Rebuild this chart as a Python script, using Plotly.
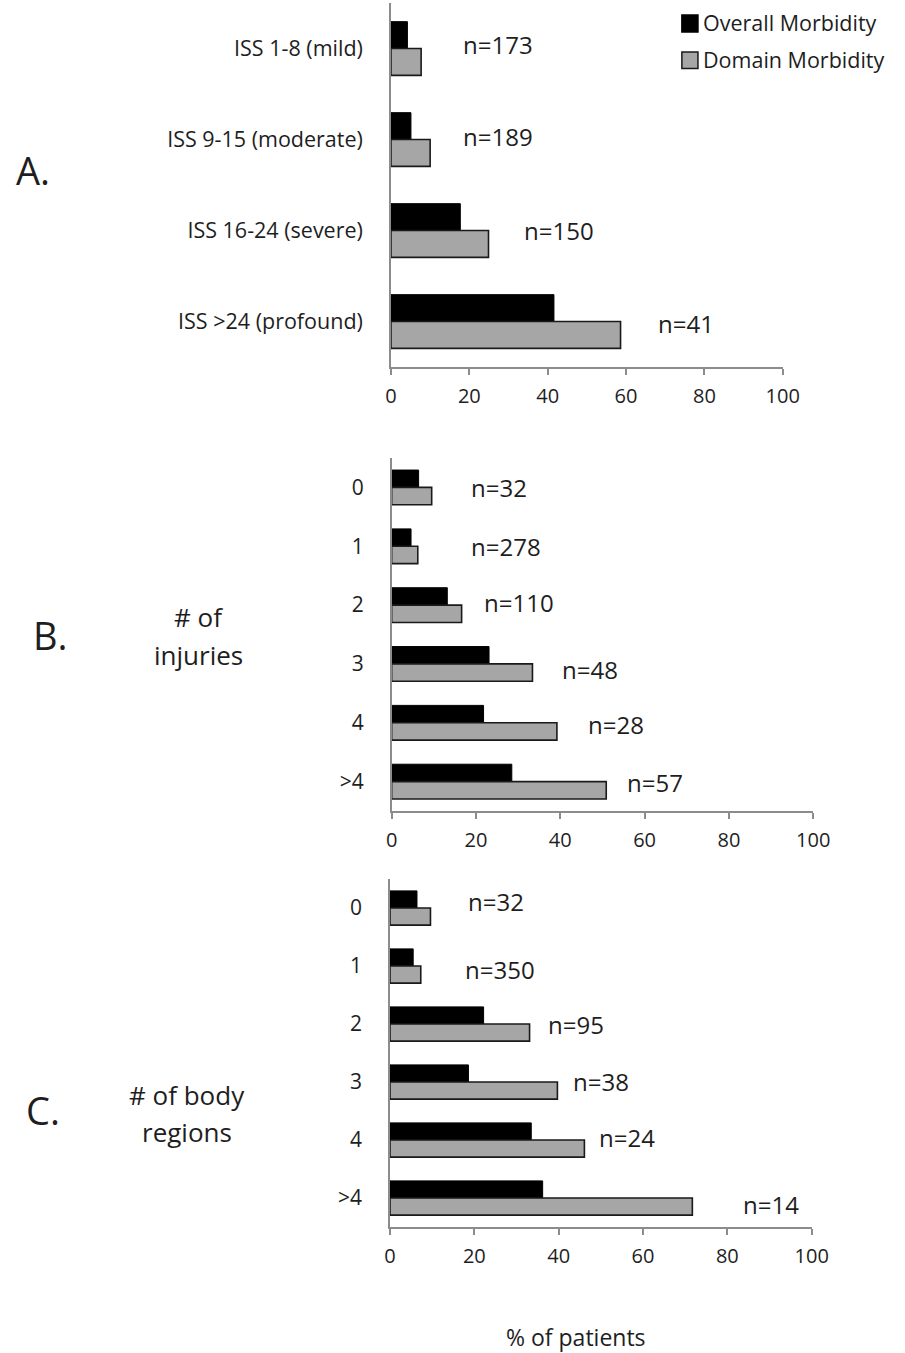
import plotly.graph_objects as go

# ---------------- data ----------------
series_names = ["Overall Morbidity", "Domain Morbidity"]

cats_a = ["ISS 1-8 (mild)", "ISS 9-15 (moderate)", "ISS 16-24 (severe)", "ISS >24 (profound)"]
overall_a = [4.2, 5.1, 17.7, 41.6]
domain_a = [7.7, 10.0, 24.9, 58.6]
n_a = [173, 189, 150, 41]

cats_b = ["0", "1", "2", "3", "4", ">4"]
overall_b = [6.4, 4.6, 13.2, 23.1, 21.8, 28.5]
domain_b = [9.5, 6.2, 16.6, 33.4, 39.2, 50.9]
n_b = [32, 278, 110, 48, 28, 57]

cats_c = ["0", "1", "2", "3", "4", ">4"]
overall_c = [6.4, 5.5, 22.2, 18.6, 33.5, 36.2]
domain_c = [9.6, 7.3, 33.1, 39.7, 46.1, 71.7]
n_c = [32, 350, 95, 38, 24, 14]

x_ticks = [0, 20, 40, 60, 80, 100]

# ---------------- layout helpers (positions / styles) ----------------
W, H = 905, 1353
FONT = "Open Sans"
TXT = "#1e1e1e"
AXIS = "#8c8c8c"
BLACK = "#000000"
GREY = "#a6a6a6"
GREY_EDGE = "#1a1a1a"

# n-label x positions (in data units) and vertical nudges (px)
nlab_x_a = [18.7, 18.7, 34.1, 68.4]
nlab_dy_a = [-4, -3, 0, 2]
nlab_x_b = [19.0, 19.0, 22.2, 40.7, 46.7, 56.0]
nlab_dy_b = [0, 0, -3, 6, 2, 1]
nlab_x_c = [18.7, 18.0, 37.7, 43.7, 49.9, 83.9]
nlab_dy_c = [-7, 3, 0, -1, -3, 6]


def px_x(p):
    return p / W


def px_y(p):
    return 1 - p / H


panels = [
    dict(cats=cats_a, ov=overall_a, dm=domain_a, n=n_a, nx=nlab_x_a, ndy=nlab_dy_a,
         xd=[px_x(395), px_x(797)], yd=[px_y(367), px_y(3)], cat_font=21.5),
    dict(cats=cats_b, ov=overall_b, dm=domain_b, n=n_b, nx=nlab_x_b, ndy=nlab_dy_b,
         xd=[px_x(395.7), px_x(828.3)], yd=[px_y(811), px_y(458)], cat_font=21),
    dict(cats=cats_c, ov=overall_c, dm=domain_c, n=n_c, nx=nlab_x_c, ndy=nlab_dy_c,
         xd=[px_x(394), px_x(826.7)], yd=[px_y(1227), px_y(879)], cat_font=21),
]

fig = go.Figure()
annotations = []
shapes = []
layout_axes = {}

for i, p in enumerate(panels):
    sfx = "" if i == 0 else str(i + 1)
    xa, ya = "x" + sfx, "y" + sfx
    fig.add_trace(go.Bar(
        orientation="h", y=p["cats"], x=p["ov"], name=series_names[0],
        marker=dict(color=BLACK, line=dict(color=BLACK, width=1)),
        xaxis=xa, yaxis=ya, showlegend=False))
    fig.add_trace(go.Bar(
        orientation="h", y=p["cats"], x=p["dm"], name=series_names[1],
        marker=dict(color=GREY, line=dict(color=GREY_EDGE, width=1.6)),
        xaxis=xa, yaxis=ya, showlegend=False))

    layout_axes["xaxis" + sfx] = dict(
        domain=p["xd"], anchor=ya, range=[0, 100], tickvals=x_ticks,
        showline=True, linecolor=AXIS, linewidth=1.5, ticks="outside",
        ticklen=6, tickcolor=AXIS, tickwidth=1.5, showgrid=False, zeroline=False,
        tickfont=dict(family=FONT, size=20, color=TXT), ticklabelstandoff=4,
        fixedrange=True)
    layout_axes["yaxis" + sfx] = dict(
        domain=p["yd"], anchor=xa, type="category", categoryarray=p["cats"],
        autorange="reversed", showline=True, linecolor=AXIS, linewidth=1.5,
        ticks="", showgrid=False, zeroline=False, ticklabelstandoff=22,
        tickfont=dict(family=FONT, size=p["cat_font"], color=TXT), fixedrange=True)

    for cat, nv, nx, dy in zip(p["cats"], p["n"], p["nx"], p["ndy"]):
        annotations.append(dict(
            xref=xa, yref=ya, x=nx, y=cat, text=f"n={nv}", showarrow=False,
            xanchor="left", yanchor="middle", yshift=-dy, xshift=-3,
            font=dict(family=FONT, size=24, color=TXT)))

# legend (drawn manually so it does not push the margins)
legend_items = [
    (series_names[0], BLACK, BLACK, 15, 32, 23),
    (series_names[1], GREY, GREY_EDGE, 52, 68.5, 60),
]
for name, fill, edge, y0, y1, ty in legend_items:
    shapes.append(dict(type="rect", xref="paper", yref="paper",
                       x0=px_x(693.5), x1=px_x(710), y0=px_y(y1), y1=px_y(y0),
                       fillcolor=fill, line=dict(color=edge, width=1.5)))
    annotations.append(dict(
        xref="paper", yref="paper", x=px_x(713), y=px_y(ty), text=name,
        showarrow=False, xanchor="left", yanchor="middle",
        font=dict(family=FONT, size=21.5, color=TXT)))

# panel letters and side titles
side_texts = [
    ("A.", 8, 170, 38, "left"),
    ("B.", 26, 635, 38, "left"),
    ("C.", 18, 1110, 38, "left"),
    ("# of", 198, 617, 26, "center"),
    ("injuries", 198, 655, 26, "center"),
    ("# of body", 186, 1095, 26, "center"),
    ("regions", 186, 1132, 26, "center"),
    ("% of patients", 585, 1337, 23, "center"),
]
for t, x, y, s, anc in side_texts:
    annotations.append(dict(
        xref="paper", yref="paper", x=px_x(x), y=px_y(y), text=t, showarrow=False,
        xanchor=anc, yanchor="middle", font=dict(family=FONT, size=s, color=TXT)))

fig.update_layout(
    width=W, height=H, autosize=False,
    margin=dict(l=0, r=0, t=0, b=0, pad=0),
    paper_bgcolor="white", plot_bgcolor="white",
    barmode="group", bargap=0.41, bargroupgap=0,
    showlegend=False,
    annotations=annotations,
    shapes=shapes,
    **layout_axes,
)

post = (
    "document.documentElement.style.margin='0';"
    "document.body.style.margin='0';document.body.style.padding='0';"
    "document.body.style.overflow='hidden';"
    "document.documentElement.style.overflow='hidden';"
    "var gd=document.getElementById('{plot_id}');"
    "Plotly.relayout(gd,{width:905,height:1353});"
)

fig.write_html("out.html", post_script=post,
               config={"responsive": False, "displayModeBar": False})
